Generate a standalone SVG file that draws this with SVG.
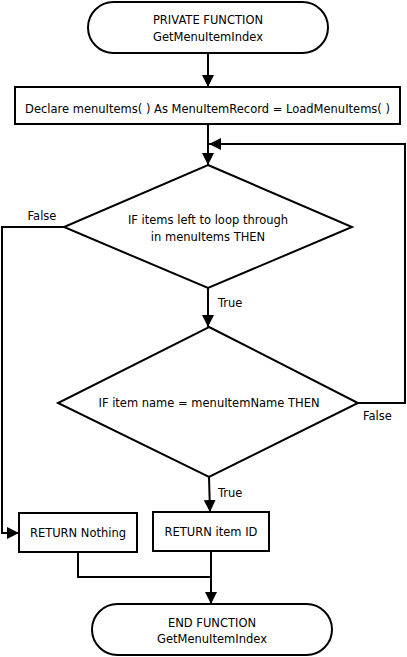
<svg xmlns="http://www.w3.org/2000/svg" width="407" height="657" viewBox="0 0 407 657">
<style>
.s{fill:#fff;stroke:#000;stroke-width:2}
.c{fill:none;stroke:#000;stroke-width:2}
text{font-family:"DejaVu Sans",Verdana,sans-serif;font-size:11.5px;fill:#000}
.m{text-anchor:middle}
</style>
<defs>
<marker id="ah" markerUnits="userSpaceOnUse" markerWidth="12" markerHeight="12" refX="12" refY="6" orient="auto">
<path d="M0,0 L12,6 L0,12 z" fill="#000"/>
</marker>
</defs>
<g id="connectors">
<line class="c" x1="208" y1="53" x2="208" y2="87" marker-end="url(#ah)"/>
<line class="c" x1="208" y1="124" x2="208" y2="165" marker-end="url(#ah)"/>
<line class="c" x1="208" y1="288" x2="208" y2="327" marker-end="url(#ah)"/>
<polyline class="c" points="64,227 2,227 2,533 19,533" marker-end="url(#ah)"/>
<polyline class="c" points="358,403 405,403 405,144 209,144" marker-end="url(#ah)"/>
<line class="c" x1="209" y1="477" x2="210" y2="512" marker-end="url(#ah)"/>
<polyline class="c" points="78,552 78,577 211,577"/>
<line class="c" x1="211" y1="551" x2="211" y2="604" marker-end="url(#ah)"/>
<text x="42" y="220" class="m">False</text>
<text x="218" y="307">True</text>
<text x="363" y="420">False</text>
<text x="218" y="497">True</text>
</g>
<g id="start">
<rect class="s" x="88" y="2" width="240" height="51" rx="25.5" ry="25.5"/>
<text x="208" y="24" class="m">PRIVATE FUNCTION</text>
<text x="208" y="41" class="m">GetMenuItemIndex</text>
</g>
<g id="declare">
<rect class="s" x="15" y="87" width="385" height="37"/>
<text x="207.5" y="113" class="m">Declare menuItems( ) As MenuItemRecord = LoadMenuItems( )</text>
</g>
<g id="decision1">
<polygon class="s" points="208,165 352,227 208,288 64,227"/>
<text x="208" y="224" class="m">IF items left to loop through</text>
<text x="208" y="241" class="m">in menuItems THEN</text>
</g>
<g id="decision2">
<polygon class="s" points="209,327 358,403 209,477 58,403"/>
<text x="209" y="407" class="m">IF item name = menuItemName THEN</text>
</g>
<g id="returnNothing">
<rect class="s" x="19" y="513" width="118" height="39"/>
<text x="78" y="537" class="m">RETURN Nothing</text>
</g>
<g id="returnItemId">
<rect class="s" x="153" y="512" width="116" height="39"/>
<text x="211" y="536" class="m">RETURN item ID</text>
</g>
<g id="end">
<rect class="s" x="92" y="604" width="240" height="51" rx="25.5" ry="25.5"/>
<text x="212" y="627" class="m">END FUNCTION</text>
<text x="212" y="643" class="m">GetMenuItemIndex</text>
</g>
</svg>
